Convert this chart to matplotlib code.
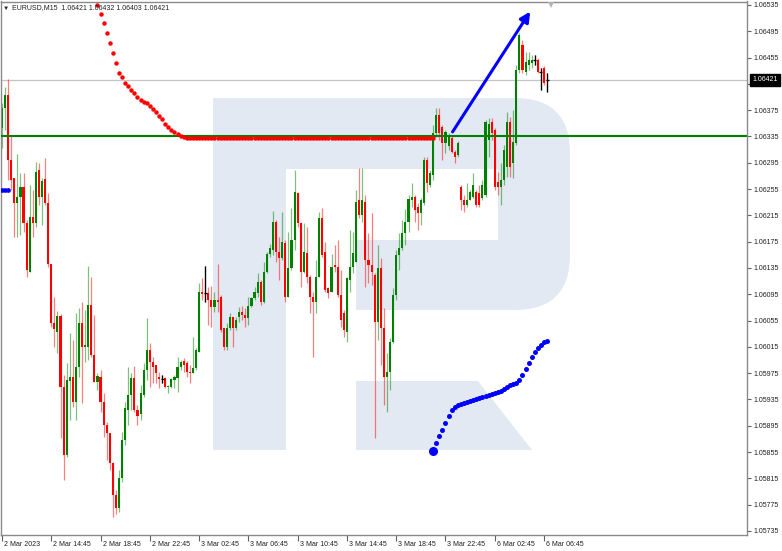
import matplotlib
matplotlib.use('Agg')
import matplotlib.pyplot as plt
import numpy as np
from matplotlib.patches import Rectangle, FancyBboxPatch, Polygon
from matplotlib.transforms import ScaledTranslation

plt.rcParams['font.family'] = ['Liberation Sans', 'DejaVu Sans']

# EURUSD M15, one value per bar (bar 0 = 2 Mar 10:45)
opens = [
    1.06348, 1.06378, 1.06398, 1.06299, 1.06272, 1.06234, 1.06243, 1.06258, 1.06203, 1.06129,
    1.06213, 1.06203, 1.06284, 1.06243, 1.06270, 1.06234, 1.06141, 1.06051, 1.06038, 1.06062,
    1.05954, 1.05851, 1.05963, 1.05969, 1.05931, 1.05984, 1.06051, 1.06015, 1.06015, 1.06079,
    1.06003, 1.05962, 1.05969, 1.05931, 1.05896, 1.05884, 1.05838, 1.05790, 1.05770, 1.05816,
    1.05873, 1.05919, 1.05942, 1.05968, 1.05919, 1.05913, 1.05942, 1.05980, 1.06010, 1.05992,
    1.05987, 1.05969, 1.05966, 1.05968, 1.05954, 1.05954, 1.05965, 1.05968, 1.05984, 1.05994,
    1.05991, 1.05977, 1.05975, 1.05983, 1.06007, 1.06099, 1.06097, 1.06097, 1.06086, 1.06076,
    1.06086, 1.06091, 1.06044, 1.06015, 1.06044, 1.06060, 1.06044, 1.06060, 1.06068, 1.06064,
    1.06059, 1.06077, 1.06089, 1.06097, 1.06114, 1.06083, 1.06129, 1.06156, 1.06162, 1.06205,
    1.06159, 1.06150, 1.06173, 1.06091, 1.06135, 1.06178, 1.06249, 1.06203, 1.06129, 1.06158,
    1.06121, 1.06091, 1.06083, 1.06121, 1.06211, 1.06159, 1.06105, 1.06099, 1.06140, 1.06137,
    1.06094, 1.06067, 1.06038, 1.06117, 1.06137, 1.06144, 1.06238, 1.06216, 1.06235, 1.06147,
    1.06140, 1.06124, 1.06053, 1.06135, 1.06044, 1.05969, 1.05977, 1.06022, 1.06094, 1.06155,
    1.06165, 1.06188, 1.06205, 1.06238, 1.06243, 1.06228, 1.06219, 1.06234, 1.06299, 1.06261,
    1.06276, 1.06340, 1.06368, 1.06349, 1.06325, 1.06320, 1.06333, 1.06311, 1.06307, 1.06258,
    1.06238, 1.06231, 1.06238, 1.06243, 1.06251, 1.06249, 1.06241, 1.06246, 1.06330, 1.06357,
    1.06345, 1.06266, 1.06258, 1.06269, 1.06289, 1.06357, 1.06295, 1.06325, 1.06436, 1.06474,
    1.06433, 1.06444, 1.06447, 1.06451, 1.06451, 1.06433, 1.06439, 1.06421]
highs = [
    1.06386, 1.06410, 1.06422, 1.06336, 1.06272, 1.06308, 1.06280, 1.06280, 1.06208, 1.06261,
    1.06254, 1.06296, 1.06295, 1.06272, 1.06302, 1.06249, 1.06141, 1.06091, 1.06070, 1.06065,
    1.05972, 1.05991, 1.06036, 1.06026, 1.06067, 1.06074, 1.06083, 1.06071, 1.06138, 1.06121,
    1.06064, 1.05975, 1.05980, 1.05945, 1.05901, 1.05884, 1.05840, 1.05797, 1.05828, 1.05886,
    1.05931, 1.05984, 1.05975, 1.05986, 1.05927, 1.05957, 1.05991, 1.06059, 1.06021, 1.06000,
    1.05987, 1.05977, 1.05972, 1.05969, 1.05957, 1.05968, 1.05972, 1.06000, 1.05995, 1.05998,
    1.05994, 1.05987, 1.06030, 1.06013, 1.06112, 1.06120, 1.06138, 1.06106, 1.06108, 1.06099,
    1.06141, 1.06094, 1.06044, 1.06051, 1.06067, 1.06060, 1.06060, 1.06076, 1.06077, 1.06074,
    1.06091, 1.06091, 1.06106, 1.06127, 1.06117, 1.06144, 1.06159, 1.06172, 1.06222, 1.06208,
    1.06182, 1.06220, 1.06178, 1.06190, 1.06226, 1.06284, 1.06251, 1.06205, 1.06203, 1.06197,
    1.06124, 1.06099, 1.06147, 1.06220, 1.06226, 1.06175, 1.06106, 1.06156, 1.06170, 1.06178,
    1.06132, 1.06071, 1.06121, 1.06193, 1.06190, 1.06254, 1.06287, 1.06287, 1.06246, 1.06188,
    1.06219, 1.06127, 1.06170, 1.06150, 1.06074, 1.06006, 1.06029, 1.06105, 1.06162, 1.06188,
    1.06208, 1.06225, 1.06246, 1.06264, 1.06246, 1.06234, 1.06241, 1.06304, 1.06304, 1.06284,
    1.06353, 1.06378, 1.06378, 1.06353, 1.06345, 1.06340, 1.06337, 1.06314, 1.06328, 1.06261,
    1.06246, 1.06264, 1.06254, 1.06280, 1.06254, 1.06261, 1.06269, 1.06360, 1.06363, 1.06363,
    1.06348, 1.06281, 1.06295, 1.06322, 1.06372, 1.06365, 1.06375, 1.06444, 1.06492, 1.06482,
    1.06464, 1.06464, 1.06459, 1.06459, 1.06454, 1.06439, 1.06442, 1.06432]
lows = [
    1.06318, 1.06345, 1.06269, 1.06254, 1.06182, 1.06182, 1.06185, 1.06190, 1.06121, 1.06129,
    1.06182, 1.06197, 1.06231, 1.06200, 1.06231, 1.06137, 1.06045, 1.06015, 1.06006, 1.05876,
    1.05813, 1.05848, 1.05904, 1.05924, 1.05904, 1.05969, 1.05930, 1.05992, 1.05995, 1.06000,
    1.05962, 1.05949, 1.05916, 1.05878, 1.05843, 1.05828, 1.05756, 1.05761, 1.05764, 1.05810,
    1.05866, 1.05896, 1.05919, 1.05916, 1.05896, 1.05904, 1.05939, 1.05965, 1.05954, 1.05960,
    1.05960, 1.05952, 1.05960, 1.05952, 1.05945, 1.05952, 1.05952, 1.05946, 1.05980, 1.05977,
    1.05969, 1.05960, 1.05975, 1.05980, 1.06007, 1.06086, 1.06083, 1.06048, 1.06045, 1.06068,
    1.06068, 1.06038, 1.06010, 1.06010, 1.06041, 1.06015, 1.06041, 1.06053, 1.06056, 1.06045,
    1.06048, 1.06076, 1.06086, 1.06091, 1.06079, 1.06082, 1.06127, 1.06152, 1.06155, 1.06144,
    1.06117, 1.06147, 1.06083, 1.06091, 1.06132, 1.06162, 1.06197, 1.06106, 1.06127, 1.06112,
    1.06067, 1.06000, 1.06067, 1.06121, 1.06152, 1.06099, 1.06089, 1.06099, 1.06129, 1.06091,
    1.06045, 1.06030, 1.06022, 1.06099, 1.06127, 1.06144, 1.06211, 1.06205, 1.06106, 1.06112,
    1.06109, 1.05876, 1.06026, 1.05987, 1.05927, 1.05916, 1.05949, 1.06021, 1.06086, 1.06132,
    1.06162, 1.06170, 1.06190, 1.06228, 1.06205, 1.06193, 1.06200, 1.06231, 1.06251, 1.06258,
    1.06269, 1.06334, 1.06330, 1.06299, 1.06310, 1.06314, 1.06310, 1.06295, 1.06304, 1.06223,
    1.06220, 1.06228, 1.06238, 1.06241, 1.06228, 1.06228, 1.06238, 1.06243, 1.06304, 1.06330,
    1.06254, 1.06246, 1.06231, 1.06261, 1.06273, 1.06273, 1.06272, 1.06322, 1.06432, 1.06432,
    1.06429, 1.06436, 1.06439, 1.06444, 1.06432, 1.06406, 1.06413, 1.06403]
closes = [
    1.06378, 1.06398, 1.06299, 1.06269, 1.06234, 1.06243, 1.06258, 1.06203, 1.06132, 1.06213,
    1.06203, 1.06281, 1.06243, 1.06267, 1.06234, 1.06141, 1.06051, 1.06042, 1.06062, 1.05954,
    1.05851, 1.05965, 1.05969, 1.05931, 1.05984, 1.06051, 1.06015, 1.06018, 1.06079, 1.06003,
    1.05962, 1.05971, 1.05931, 1.05896, 1.05884, 1.05838, 1.05790, 1.05770, 1.05816, 1.05873,
    1.05922, 1.05942, 1.05968, 1.05919, 1.05910, 1.05945, 1.05980, 1.06010, 1.05992, 1.05984,
    1.05975, 1.05966, 1.05966, 1.05954, 1.05956, 1.05966, 1.05969, 1.05984, 1.05992, 1.05987,
    1.05977, 1.05975, 1.05983, 1.06010, 1.06099, 1.06095, 1.06097, 1.06086, 1.06076, 1.06086,
    1.06083, 1.06041, 1.06015, 1.06044, 1.06060, 1.06044, 1.06056, 1.06068, 1.06064, 1.06059,
    1.06077, 1.06089, 1.06099, 1.06114, 1.06083, 1.06129, 1.06156, 1.06165, 1.06205, 1.06159,
    1.06150, 1.06175, 1.06091, 1.06135, 1.06178, 1.06251, 1.06203, 1.06129, 1.06159, 1.06121,
    1.06091, 1.06083, 1.06121, 1.06211, 1.06155, 1.06102, 1.06097, 1.06137, 1.06137, 1.06094,
    1.06056, 1.06041, 1.06120, 1.06137, 1.06158, 1.06235, 1.06216, 1.06238, 1.06147, 1.06140,
    1.06129, 1.06053, 1.06135, 1.06044, 1.05969, 1.05977, 1.06022, 1.06094, 1.06155, 1.06165,
    1.06188, 1.06205, 1.06240, 1.06243, 1.06223, 1.06219, 1.06238, 1.06299, 1.06264, 1.06280,
    1.06340, 1.06368, 1.06340, 1.06325, 1.06342, 1.06336, 1.06311, 1.06304, 1.06325, 1.06238,
    1.06231, 1.06238, 1.06251, 1.06261, 1.06231, 1.06231, 1.06261, 1.06357, 1.06354, 1.06340,
    1.06258, 1.06258, 1.06269, 1.06314, 1.06357, 1.06289, 1.06327, 1.06436, 1.06489, 1.06436,
    1.06448, 1.06451, 1.06451, 1.06451, 1.06433, 1.06433, 1.06416, 1.06421]

# red parabolic dots (bars 31..140)
sar_red_idx = list(range(31, 141))
sar_red = [1.06535, 1.06521, 1.06508, 1.06492, 1.06477, 1.06462, 1.06447, 1.06432, 1.06426,
           1.06416, 1.06412, 1.06406, 1.06401, 1.06395, 1.06391, 1.06388, 1.06386, 1.06381,
           1.06377, 1.06372, 1.06366, 1.06362, 1.06354, 1.06349, 1.06345, 1.06342, 1.06339,
           1.06336, 1.06334] + [1.06333] * 81

# blue dots
sar_blue_left_idx = [0, 1, 2]
sar_blue_left = [1.06254, 1.06254, 1.06254]
sar_blue_idx = list(range(140, 178))
sar_blue = [1.05857, 1.05869, 1.05879, 1.05889, 1.05899, 1.05910, 1.05919, 1.05924, 1.05927,
            1.05928, 1.05930, 1.05931, 1.05933, 1.05934, 1.05936, 1.05937, 1.05939, 1.05940,
            1.05942, 1.05943, 1.05945, 1.05946, 1.05948, 1.05951, 1.05954, 1.05957, 1.05959,
            1.05960, 1.05965, 1.05972, 1.05981, 1.05991, 1.06000, 1.06007, 1.06013, 1.06018,
            1.06022, 1.06024]

level_price = 1.06335
bid_price = 1.06421
arrow_start = (146.3, 1.06342)
arrow_end = (171.5, 1.06525)
shift_marker_x = 178.2

x_tick_idx = [0, 16, 32, 48, 64, 80, 96, 112, 128, 144, 160, 176]
x_tick_labels = ['2 Mar 2023', '2 Mar 14:45', '2 Mar 18:45', '2 Mar 22:45', '3 Mar 02:45',
                 '3 Mar 06:45', '3 Mar 10:45', '3 Mar 14:45', '3 Mar 18:45', '3 Mar 22:45',
                 '6 Mar 02:45', '6 Mar 06:45']
y_ticks = np.round(np.arange(1.05735, 1.06536, 0.0004), 5)

fig = plt.figure(figsize=(7.82, 5.51), dpi=100)

# watermark logo, drawn in pixel space behind the chart
bg = fig.add_axes([0, 0, 1, 1], zorder=0)
bg.set_xlim(0, 782)
bg.set_ylim(551, 0)
bg.axis('off')
logo = '#e3e9f3'
bg.add_patch(FancyBboxPatch((213, 98), 357, 212, boxstyle='round,pad=0,rounding_size=55',
                            fc=logo, ec='none'))
bg.add_patch(Rectangle((213, 98), 73, 352, fc=logo, ec='none'))
bg.add_patch(Rectangle((286, 169), 212, 71, fc='white', ec='none'))
bg.add_patch(Rectangle((286, 239), 70, 72, fc='white', ec='none'))
bg.add_patch(Polygon([(356, 381), (478, 381), (532, 450), (356, 450)], fc=logo, ec='none'))

ax = fig.add_axes([1 / 782, 16 / 551, 746 / 782, 533.5 / 551], zorder=1)
ax.patch.set_alpha(0)
ax.set_xlim(-0.32, 241.9)
ax.set_ylim(1.057289, 1.065403)

x = np.arange(len(opens))
o = np.array(opens); h = np.array(highs); l = np.array(lows); c = np.array(closes)
cols = np.where(c > o, '#008000', np.where(c < o, '#ff0000', '#000000'))

ax.axhline(bid_price, color='#c4c4c4', lw=0.9, zorder=1)
ax.vlines(x, l, h, colors=cols, lw=0.9, alpha=0.5, zorder=2)
body = np.abs(c - o)
ax.bar(x, body, bottom=np.minimum(o, c), width=0.68, color=cols, lw=0, zorder=2.2)
doji = body == 0
ax.vlines(x[doji], l[doji], h[doji], colors='#000000', lw=0.9, zorder=2.3)
ax.hlines(o[doji], x[doji] - 0.5, x[doji] + 0.5, colors='#000000', lw=0.9, zorder=2.3)

ax.axhline(level_price, color='#008000', lw=1.5, zorder=3)
ax.plot(sar_red_idx, sar_red, 'o', color='#ff0000', ms=3.2, mew=0, zorder=4)
ax.plot(sar_blue_left_idx, sar_blue_left, 'o', color='#0000ff', ms=3.4, mew=0, zorder=4)
ax.plot(sar_blue_idx[1:], sar_blue[1:], 'o', color='#0000ff', ms=3.6, mew=0, zorder=4)
ax.plot(sar_blue_idx[:1], sar_blue[:1], 'o', color='#0000ff', ms=6.5, mew=0, zorder=4)

ax.annotate('', xy=arrow_end, xytext=arrow_start,
            arrowprops=dict(arrowstyle='-|>,head_length=0.6,head_width=0.3', color='#0000ff',
                            lw=2.2, shrinkA=0, shrinkB=0), zorder=5)

ax.plot([shift_marker_x], [0.994], marker='v', ms=5, color='#b4b4b4', mew=0,
        transform=ax.get_xaxis_transform(), clip_on=False, zorder=6)

for s in ax.spines.values():
    s.set_color('#8a8a8a')
    s.set_linewidth(1)

ax.yaxis.tick_right()
ax.set_yticks(y_ticks)
ax.set_yticklabels(['%.5f' % v for v in y_ticks])
ax.tick_params(axis='y', length=3, width=0.8, color='#606060', labelsize=5, pad=2,
               labelcolor='#202020')
ax.set_xticks(x_tick_idx)
ax.set_xticklabels(x_tick_labels)
ax.tick_params(axis='x', length=4, width=0.8, color='#606060', labelsize=5, pad=0.5,
               labelcolor='#202020')
for lbl in ax.get_xticklabels():
    lbl.set_ha('left')
    lbl.set_transform(lbl.get_transform() + ScaledTranslation(2 / 100, 0, fig.dpi_scale_trans))

ax.text(1 + 5 / 746, bid_price, '1.06421', transform=ax.get_yaxis_transform(), color='white',
        fontsize=5, va='center', ha='left', clip_on=False, zorder=10,
        bbox=dict(boxstyle='square,pad=0.35', fc='black', ec='black'))

fig.text(3 / 782, 1 - 8 / 551, '▼', fontsize=4.5, va='center', ha='left', color='#202020')
fig.text(12 / 782, 1 - 8 / 551, 'EURUSD,M15  1.06421 1.06432 1.06403 1.06421', fontsize=5,
         va='center', ha='left', color='#202020')

fig.savefig('out.png', dpi=100)
